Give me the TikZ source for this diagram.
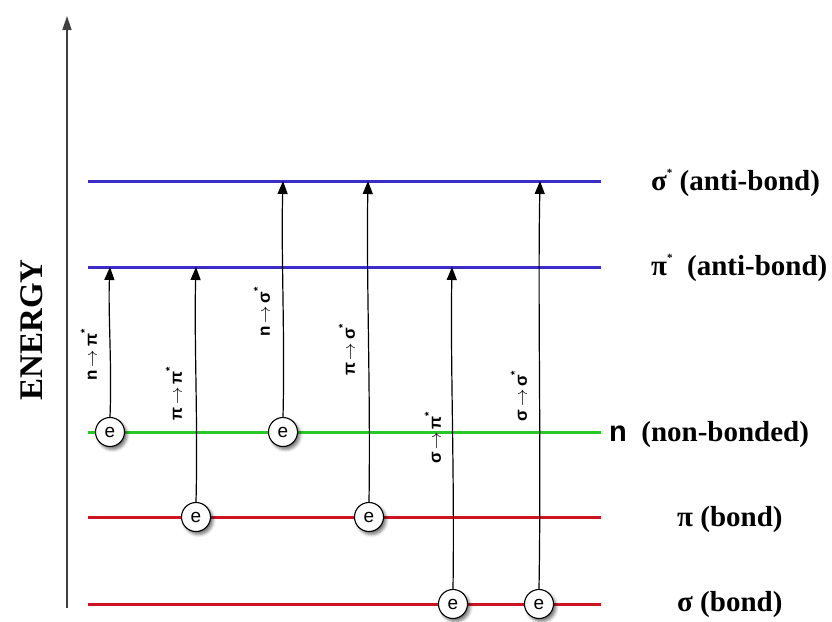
\documentclass[tikz,border=0pt]{standalone}
\usepackage{fontspec}
\setmainfont{Liberation Serif}
\setsansfont{Liberation Sans}
\usetikzlibrary{arrows.meta,shadows.blur,calc}
\definecolor{antibond}{RGB}{60,45,200}
\definecolor{nonbond}{RGB}{40,200,40}
\definecolor{bond}{RGB}{205,20,35}
% small raised star for the antibonding orbitals
\newcommand{\anti}{\raisebox{0.5em}{\fontsize{11}{11}\selectfont *}}
\newcommand{\goesto}{\,$\mathbf{\rightarrow}$\,}
\begin{document}
\begin{tikzpicture}[x=1pt,y=-1pt,
  level/.style={line width=3pt},
  electron/.style={circle,draw,line width=1.1pt,fill=white,minimum size=29pt,inner sep=0pt,
    font=\sffamily\fontsize{19}{19}\selectfont,
    blur shadow={shadow xshift=2.5pt,shadow yshift=-3pt,shadow blur radius=3pt,shadow opacity=55}},
  jump/.style={line width=1.2pt,-{Triangle[length=13pt,width=10pt]}},
  jumplabel/.style={rotate=90,font=\sffamily\bfseries\fontsize{17}{17}\selectfont,inner sep=0pt},
  levellabel/.style={anchor=west,font=\rmfamily\bfseries\fontsize{29}{29}\selectfont,inner sep=0pt}
]
\useasboundingbox (0,0) rectangle (832,621);

% energy axis
\coordinate (axbot) at (67,608);
\coordinate (axtop) at (67,16);
\draw[line width=1.6pt,black!75,-{Triangle[length=14pt,width=9pt]}] (axbot) -- (axtop);
\node[rotate=90,font=\rmfamily\bfseries\fontsize{33}{33}\selectfont] (energy) at (32,330) {ENERGY};

% orbital levels
\draw[level,antibond] (88,181) -- (601,181);
\draw[level,antibond] (88,267) -- (601,267);
\draw[level,nonbond]  (88,432) -- (601,432);
\draw[level,bond]     (88,517) -- (601,517);
\draw[level,bond]     (88,604) -- (601,604);

% level names
\node[levellabel] (lsigs) at (651,183) {σ\anti\ (anti-bond)};
\node[levellabel] (lpis)  at (651,268) {π\anti\ \ (anti-bond)};
\node[levellabel] (ln)    at (609,435) {{\sffamily n}\ \ (non-bonded)};
\node[levellabel] (lpi)   at (677,520) {π (bond)};
\node[levellabel] (lsig)  at (677,605) {σ (bond)};

% targets of the transitions
\coordinate (t1) at (110,267);
\coordinate (t2) at (196,267);
\coordinate (t3) at (283,181);
\coordinate (t4) at (368,181);
\coordinate (t5) at (452,267);
\coordinate (t6) at (540,181);

% electrons
\node[electron] (e1) at (110,432) {e};
\node[electron] (e2) at (196,517) {e};
\node[electron] (e3) at (283,432) {e};
\node[electron] (e4) at (369,517) {e};
\node[electron] (e5) at (453,604) {e};
\node[electron] (e6) at (539,604) {e};

% transitions
\foreach \e/\t in {e1/t1,e2/t2,e3/t3,e4/t4,e5/t5,e6/t6}{
  \draw[jump] (\e.north) .. controls ($(\e.north)!0.35!(\t)+(2,0)$) and ($(\e.north)!0.7!(\t)+(-2,0)$) .. (\t);
}

% transition names
\node[jumplabel] (j1) at (89,355)  {n\goesto π\anti};
\node[jumplabel] (j2) at (174,394) {π\goesto π\anti};
\node[jumplabel] (j3) at (262,312) {n\goesto σ\anti};
\node[jumplabel] (j4) at (347,350) {π\goesto σ\anti};
\node[jumplabel] (j5) at (433,438) {σ\goesto π\anti};
\node[jumplabel] (j6) at (519,396) {σ\goesto σ\anti};
\end{tikzpicture}
\end{document}
